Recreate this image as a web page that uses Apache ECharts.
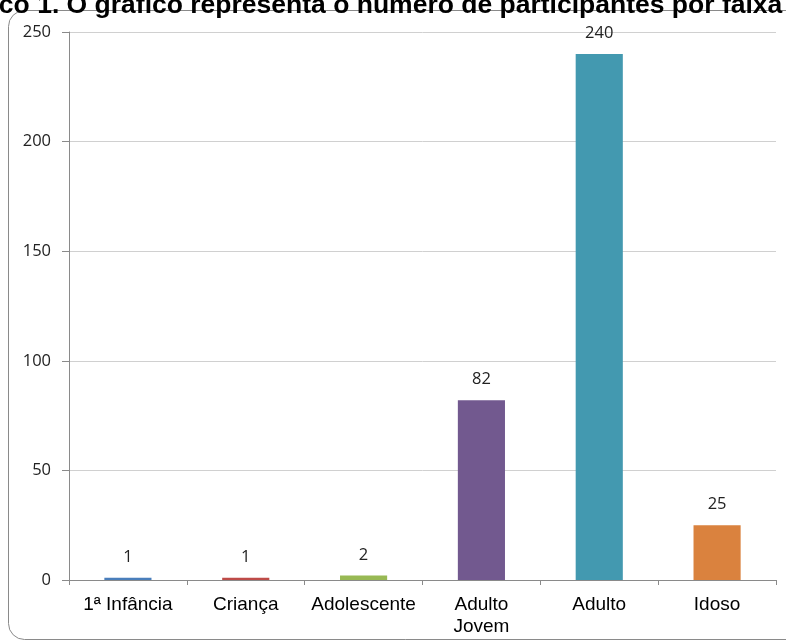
<!DOCTYPE html>
<html>
<head>
<meta charset="utf-8">
<script src="https://cdn.jsdelivr.net/npm/echarts@6/dist/echarts.min.js"></script>
<style>
  html, body { margin: 0; padding: 0; background: #fff; }
  #chart { width: 786px; height: 644px; }
</style>
</head>
<body>
<div id="chart"></div>
<script>
// Participants per age group
const categories = ['1ª Infância', 'Criança', 'Adolescente', 'Adulto\nJovem', 'Adulto', 'Idoso'];
const participants = [1, 1, 2, 82, 240, 25];
const yTicks = [0, 50, 100, 150, 200, 250];

const barColors = ['#4A7EBB', '#BE4B48', '#98B954', '#72598F', '#4399B0', '#DA823E'];

const chart = echarts.init(document.getElementById('chart'), null, { renderer: 'canvas' });

chart.setOption({
  animation: false,
  backgroundColor: '#ffffff',
  graphic: [
    {
      type: 'rect',
      silent: true,
      shape: { x: 8.5, y: 10.5, width: 800, height: 629, r: 16 },
      style: { fill: 'none', stroke: '#8a8a8a', lineWidth: 1 }
    },
    {
      type: 'text',
      silent: true,
      left: -63,
      top: -8,
      style: {
        text: 'Gráfico 1. O gráfico representa o número de participantes por faixa etária',
        font: 'bold 26.5px "Liberation Sans", Arial, sans-serif',
        fill: '#000'
      }
    }
  ],
  grid: { left: 69, right: 10, top: 32, bottom: 64, containLabel: false },
  xAxis: {
    type: 'category',
    data: categories,
    axisLine: { show: true, lineStyle: { color: '#8a8a8a', width: 1 } },
    axisTick: { show: true, length: 5, lineStyle: { color: '#8a8a8a' } },
    axisLabel: {
      margin: 14,
      color: '#000',
      fontFamily: '"Liberation Sans", Arial, sans-serif',
      fontSize: 19,
      lineHeight: 22,
      interval: 0
    }
  },
  yAxis: {
    type: 'value',
    min: yTicks[0],
    max: yTicks[yTicks.length - 1],
    interval: yTicks[1] - yTicks[0],
    axisLine: { show: true, lineStyle: { color: '#8a8a8a', width: 1 } },
    axisTick: { show: true, length: 7, lineStyle: { color: '#8a8a8a' } },
    axisLabel: {
      margin: 18,
      color: '#222',
      fontFamily: '"Open Sans", "Noto Sans", sans-serif',
      fontSize: 16.5
    },
    splitLine: { show: true, lineStyle: { color: '#d0d0d0', width: 1 } }
  },
  series: [
    {
      type: 'bar',
      barWidth: '40%',
      data: participants.map((v, i) => ({ value: v, itemStyle: { color: barColors[i] } })),
      label: {
        show: true,
        position: 'top',
        distance: 12,
        color: '#222',
        fontFamily: '"Open Sans", "Noto Sans", sans-serif',
        fontSize: 16.5
      }
    }
  ]
});
</script>
</body>
</html>
